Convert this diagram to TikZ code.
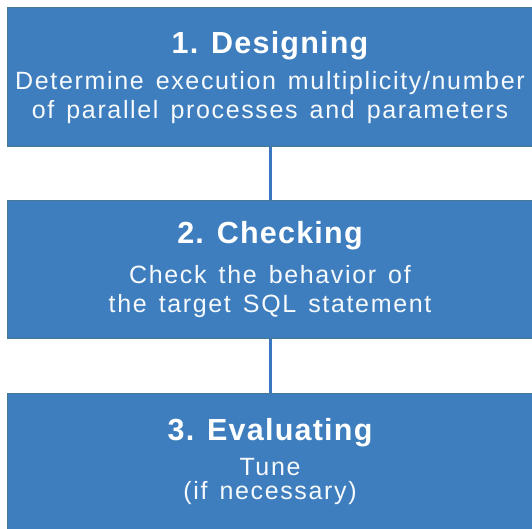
\documentclass[tikz,border=0pt]{standalone}
\usepackage{fontspec}
\setmainfont{Liberation Sans}
\newfontfamily\bodyf[LetterSpace=6.6,WordSpace=1.4]{Liberation Sans}
\newfontfamily\titlef[LetterSpace=4]{Liberation Sans}
\definecolor{boxfill}{RGB}{62,126,190}
\definecolor{boxline}{RGB}{70,120,150}
\definecolor{connc}{RGB}{58,118,196}
\begin{document}
\begin{tikzpicture}[x=1pt,y=-1pt,
  stepbox/.style={draw=boxline, line width=1pt, fill=boxfill, inner sep=0pt, minimum width=527pt},
  titletext/.style={text=white, anchor=base, inner sep=0pt, font=\titlef\bfseries\fontsize{30.5}{34}\selectfont},
  bodytext/.style={text=white!96!boxfill, anchor=base, inner sep=0pt, font=\bodyf\fontsize{25}{29}\selectfont},
  conn/.style={draw=connc, line width=3pt}]
\useasboundingbox (0,0) rectangle (532,528);
\clip (0,0) rectangle (532,528);
\node[stepbox, minimum height=139pt] (b1) at (270.5,76.5) {};
\node[stepbox, minimum height=138pt] (b2) at (270.5,269) {};
\node[stepbox, minimum height=150pt] (b3) at (270.5,468) {};
\draw[conn] (b1.south) -- (b2.north);
\draw[conn] (b2.south) -- (b3.north);
\node[titletext] (t1) at (270,53) {1. Designing};
\node[bodytext] (d1a) at (270,89) {Determine execution multiplicity/number};
\node[bodytext] (d1b) at (270,118) {of parallel processes and parameters};
\node[titletext] (t2) at (270,243) {2. Checking};
\node[bodytext] (d2a) at (270,283) {Check the behavior of};
\node[bodytext] (d2b) at (270,312) {the target SQL statement};
\node[titletext] (t3) at (270,440) {3. Evaluating};
\node[bodytext] (d3a) at (270,475) {Tune};
\node[bodytext] (d3b) at (270,499) {(if necessary)};
\end{tikzpicture}
\end{document}
